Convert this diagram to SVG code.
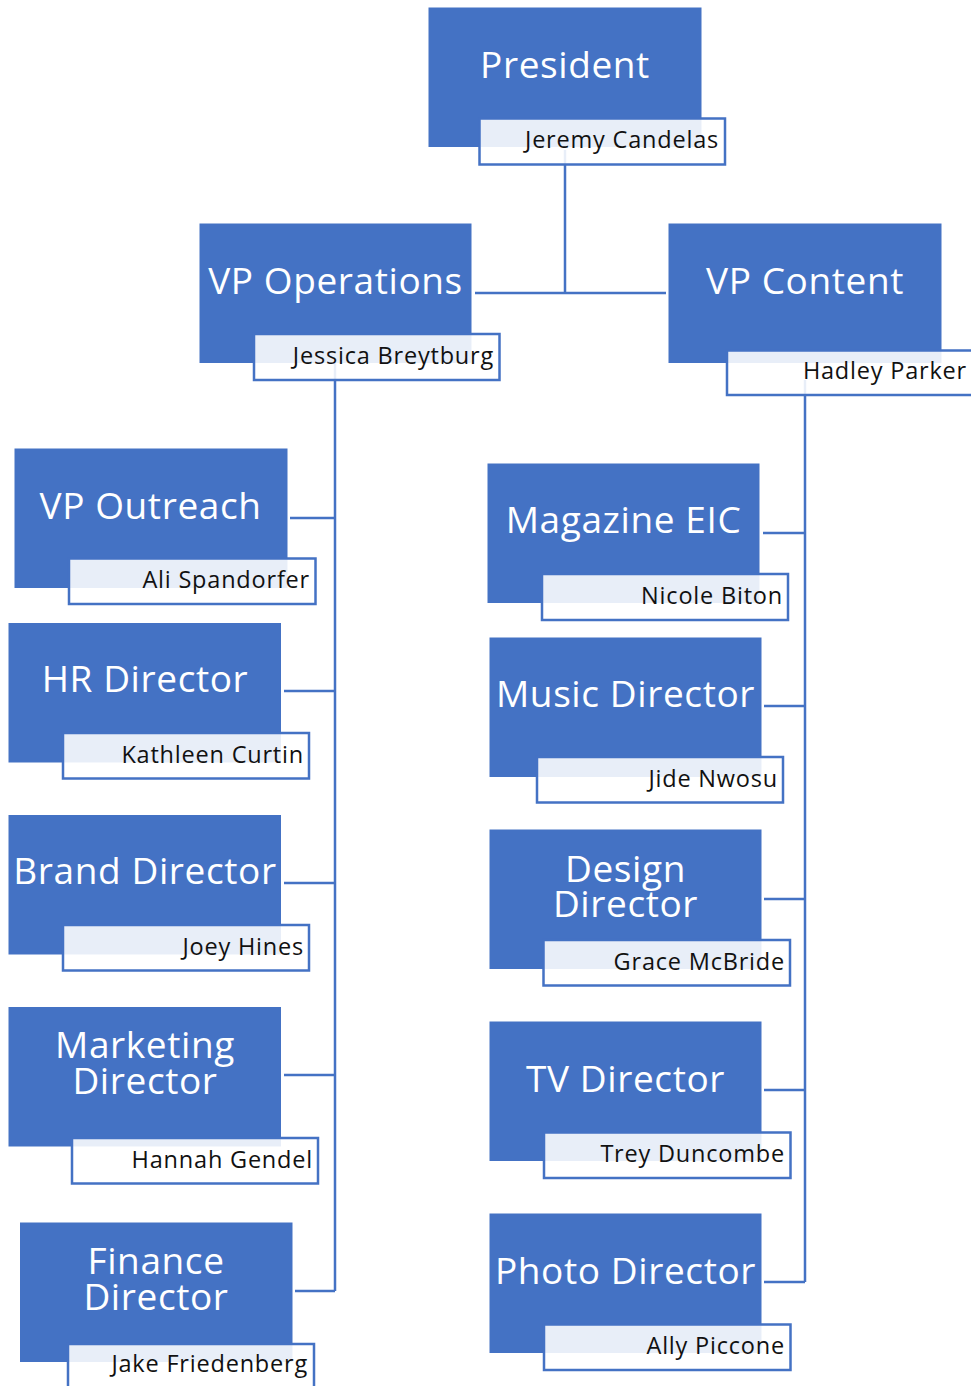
<svg xmlns="http://www.w3.org/2000/svg" width="971" height="1386" viewBox="0 0 971 1386">
<style>
.box{fill:#4472C4}
.nm{fill:#ffffff;fill-opacity:0.88;stroke:#4472C4;stroke-width:2.5}
.t{font-family:"Open Sans","Noto Sans",sans-serif;font-size:37px;letter-spacing:0.6px;fill:#ffffff;text-anchor:middle}
.n{font-family:"Open Sans","Noto Sans",sans-serif;font-size:23.5px;letter-spacing:0.8px;fill:#111111;text-anchor:end}
.c{fill:none;stroke:#4472C4;stroke-width:2.5}
</style>
<rect width="971" height="1386" fill="#ffffff"/>
<g id="connectors">
<path class="c" d="M565,150 V293 M475,293 H666"/>
<path class="c" d="M335,360 V1291 M290,518 H335 M284,691 H335 M284,883 H335 M284,1075 H335 M295,1291 H335"/>
<path class="c" d="M805,380 V1282 M763,533 H805 M764,706 H805 M764,899 H805 M764,1090 H805 M764,1282 H805"/>
</g>
<g id="president">
<rect class="box" x="428.5" y="7.5" width="273" height="139.5"/>
<text class="t" x="565" y="78">President</text>
<rect class="nm" x="479.5" y="118.5" width="245.5" height="46"/>
<text class="n" x="719" y="148">Jeremy Candelas</text>
</g>
<g id="vp-operations">
<rect class="box" x="199.5" y="223.5" width="272" height="139.5"/>
<text class="t" x="335.5" y="294">VP Operations</text>
<rect class="nm" x="254" y="334" width="245.5" height="46"/>
<text class="n" x="494" y="364">Jessica Breytburg</text>
</g>
<g id="vp-content">
<rect class="box" x="668.5" y="223.5" width="273" height="139.5"/>
<text class="t" x="805" y="294">VP Content</text>
<rect class="nm" x="727" y="350.5" width="245.5" height="44.5"/>
<text class="n" x="967" y="379">Hadley Parker</text>
</g>
<g id="vp-outreach">
<rect class="box" x="14.5" y="448.5" width="273" height="139.5"/>
<text class="t" x="150.5" y="519">VP Outreach</text>
<rect class="nm" x="69" y="558.5" width="246.5" height="45.5"/>
<text class="n" x="310" y="588">Ali Spandorfer</text>
</g>
<g id="hr-director">
<rect class="box" x="8.5" y="623" width="272.5" height="139.5"/>
<text class="t" x="145" y="692">HR Director</text>
<rect class="nm" x="63" y="733" width="246" height="45.5"/>
<text class="n" x="304" y="763">Kathleen Curtin</text>
</g>
<g id="brand-director">
<rect class="box" x="8.5" y="815" width="272.5" height="139.5"/>
<text class="t" x="145" y="884">Brand Director</text>
<rect class="nm" x="63" y="925" width="246" height="45.5"/>
<text class="n" x="304" y="955">Joey Hines</text>
</g>
<g id="marketing-director">
<rect class="box" x="8.5" y="1007" width="272.5" height="139.5"/>
<text class="t"><tspan x="145" y="1058">Marketing</tspan><tspan x="145" y="1094">Director</tspan></text>
<rect class="nm" x="72" y="1138" width="246" height="45.5"/>
<text class="n" x="313" y="1168">Hannah Gendel</text>
</g>
<g id="finance-director">
<rect class="box" x="20" y="1222.5" width="272.5" height="139.5"/>
<text class="t"><tspan x="156" y="1274">Finance</tspan><tspan x="156" y="1310">Director</tspan></text>
<rect class="nm" x="68" y="1344" width="246" height="50"/>
<text class="n" x="308" y="1372">Jake Friedenberg</text>
</g>
<g id="magazine-eic">
<rect class="box" x="487.5" y="463.5" width="272" height="139.5"/>
<text class="t" x="623.5" y="533">Magazine EIC</text>
<rect class="nm" x="542" y="574" width="246" height="46"/>
<text class="n" x="783" y="604">Nicole Biton</text>
</g>
<g id="music-director">
<rect class="box" x="489.5" y="637.5" width="272" height="139.5"/>
<text class="t" x="625.5" y="707">Music Director</text>
<rect class="nm" x="537" y="757" width="246" height="45.5"/>
<text class="n" x="778" y="787">Jide Nwosu</text>
</g>
<g id="design-director">
<rect class="box" x="489.5" y="829.5" width="272" height="139.5"/>
<text class="t"><tspan x="625.5" y="882">Design</tspan><tspan x="625.5" y="917">Director</tspan></text>
<rect class="nm" x="543.5" y="940" width="246.5" height="45.5"/>
<text class="n" x="785" y="970">Grace McBride</text>
</g>
<g id="tv-director">
<rect class="box" x="489.5" y="1021.5" width="272" height="139.5"/>
<text class="t" x="625.5" y="1092">TV Director</text>
<rect class="nm" x="544" y="1132.5" width="246.5" height="45.5"/>
<text class="n" x="785" y="1162">Trey Duncombe</text>
</g>
<g id="photo-director">
<rect class="box" x="489.5" y="1213.5" width="272" height="139.5"/>
<text class="t" x="625.5" y="1284">Photo Director</text>
<rect class="nm" x="544" y="1324.5" width="246.5" height="45.5"/>
<text class="n" x="785" y="1354">Ally Piccone</text>
</g>
</svg>
